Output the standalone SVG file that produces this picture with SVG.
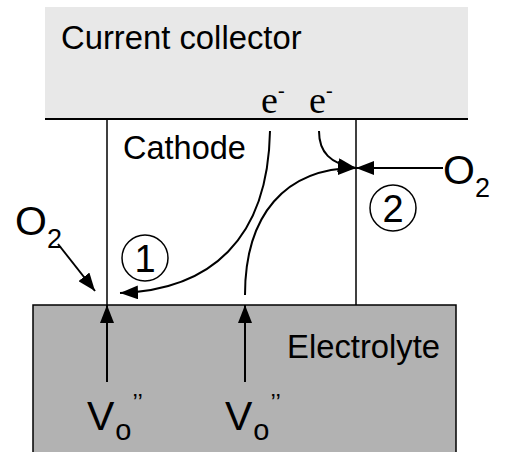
<svg xmlns="http://www.w3.org/2000/svg" width="505" height="452" viewBox="0 0 505 452">
<style>
.t{font-family:"Liberation Sans",Arial,sans-serif;fill:#000}
.s{font-family:"Liberation Serif","Times New Roman",serif;fill:#000}
.ln{stroke:#000;stroke-width:1.5;fill:none}
.ar{stroke:#000;stroke-width:2;fill:none;marker-end:url(#ah)}
</style>
<defs>
<marker id="ah" viewBox="0 0 18 14" refX="18" refY="7" markerWidth="18" markerHeight="14" markerUnits="userSpaceOnUse" orient="auto">
<path d="M0,0 L18,7 L0,14 Z" fill="#000"/>
</marker>
</defs>
<rect width="505" height="452" fill="#fff"/>
<g id="current-collector">
<rect x="45" y="7" width="423" height="112" fill="#e8e8e8"/>
<line x1="45" y1="119" x2="468" y2="119" stroke="#000" stroke-width="2"/>
<text class="t" x="61" y="49" font-size="32.8">Current collector</text>
</g>
<g id="cathode">
<line class="ln" x1="107" y1="119" x2="107" y2="305"/>
<line class="ln" x1="356" y1="119" x2="356" y2="305"/>
<text class="t" x="123" y="159" font-size="32.5">Cathode</text>
</g>
<g id="electrolyte">
<rect x="33" y="305" width="423" height="160" fill="#b2b2b2" stroke="#000" stroke-width="1.5"/>
<text class="t" x="287" y="358" font-size="32.8">Electrolyte</text>
</g>
<g id="e1"><text class="s" x="261" y="113" font-size="38">e<tspan font-size="20" dy="-16">-</tspan></text></g>
<g id="e2"><text class="s" x="309" y="113" font-size="38">e<tspan font-size="20" dy="-16">-</tspan></text></g>
<g id="o2-right"><text class="t" x="443" y="184" font-size="41">O<tspan font-size="27" dy="13">2</tspan></text></g>
<g id="o2-left"><text class="t" x="15" y="235" font-size="41">O<tspan font-size="27" dy="13">2</tspan></text></g>
<g id="step1">
<circle cx="145" cy="258" r="23" fill="none" stroke="#000" stroke-width="1.5"/>
<text class="t" x="145" y="272" font-size="38" text-anchor="middle">1</text>
</g>
<g id="step2">
<circle cx="393" cy="208" r="23" fill="none" stroke="#000" stroke-width="1.5"/>
<text class="t" x="393" y="222" font-size="38" text-anchor="middle">2</text>
</g>
<g id="vo1"><text class="t" x="87" y="430" font-size="41">V<tspan font-size="29" dx="1" dy="10">o</tspan><tspan font-size="24" dx="1" dy="-29">’’</tspan></text></g>
<g id="vo2"><text class="t" x="225" y="430" font-size="41">V<tspan font-size="29" dx="1" dy="10">o</tspan><tspan font-size="24" dx="1" dy="-29">’’</tspan></text></g>
<g id="connectors">
<line class="ar" x1="443" y1="168" x2="356" y2="168"/>
<path class="ar" d="M319,131 C319,152 330,164 356,168"/>
<path class="ar" d="M245,295 C245,215 285,168 356,168"/>
<path class="ar" d="M270,131 C268,240 210,290 120,293"/>
<line class="ar" x1="58" y1="244" x2="95" y2="291"/>
<line class="ar" x1="107" y1="382" x2="107" y2="305"/>
<line class="ar" x1="245" y1="382" x2="245" y2="305"/>
</g>
</svg>
